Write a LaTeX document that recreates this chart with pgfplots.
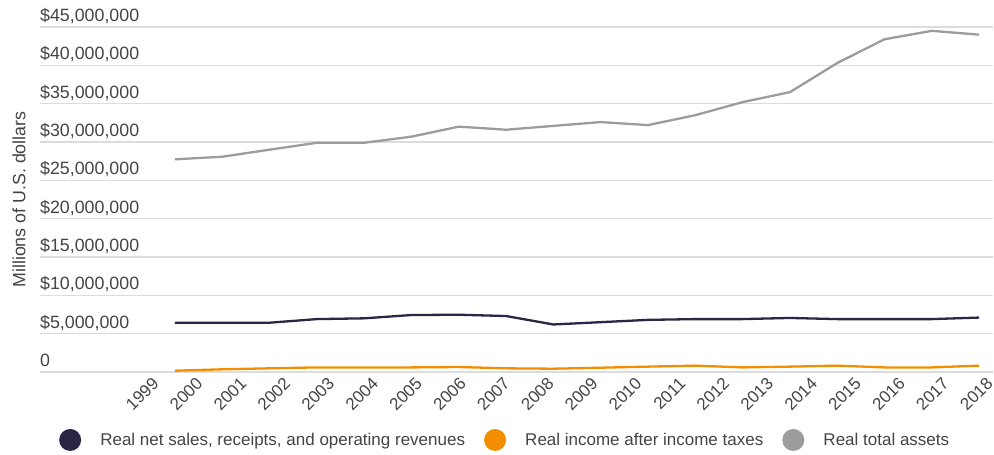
\documentclass[border=0pt]{standalone}
\usepackage{pgfplots}
\pgfplotsset{compat=1.18}
\usepackage{fontspec}
\setmainfont{Liberation Sans}
\definecolor{navy}{HTML}{2B2643}
\definecolor{orng}{HTML}{F28E00}
\definecolor{gry}{HTML}{9C9C9C}
\definecolor{gridc}{HTML}{DCDCDC}
\definecolor{txt}{HTML}{444444}
\begin{document}
\begin{tikzpicture}
\path[use as bounding box] (-40bp,-83bp) rectangle (954bp,372bp);
\begin{axis}[
  at={(0,0)}, anchor=south west,
  scale only axis, width=953bp, height=345bp,
  xmin=1998.146, xmax=2018.294,
  ymin=0, ymax=45000000,
  axis line style={draw=none},
  major tick length=0pt, tick style={draw=none},
  scaled y ticks=false, scaled x ticks=false,
  xmajorgrids=false, xminorgrids=false, yminorgrids=false,
  ymajorgrids=true, grid style={draw=gridc, line width=1.3bp},
  ytick={0,5000000,10000000,15000000,20000000,25000000,30000000,35000000,40000000,45000000},
  yticklabels={{0},{\$5,000,000},{\$10,000,000},{\$15,000,000},{\$20,000,000},{\$25,000,000},{\$30,000,000},{\$35,000,000},{\$40,000,000},{\$45,000,000}},
  yticklabel style={anchor=base west, inner sep=0pt, yshift=5.5bp, text=txt, font=\fontsize{17.8bp}{21bp}\selectfont},
  xtick={2000.410,2001.338,2002.266,2003.194,2004.122,2005.051,2005.979,2006.907,2007.835,2008.763,2009.691,2010.619,2011.547,2012.475,2013.403,2014.332,2015.260,2016.188,2017.116,2018.044},
  xticklabels={1999,2000,2001,2002,2003,2004,2005,2006,2007,2008,2009,2010,2011,2012,2013,2014,2015,2016,2017,2018},
  xticklabel style={rotate=45, anchor=north east, inner sep=0pt, yshift=-6bp, text=txt, font=\fontsize{17bp}{20bp}\selectfont},
  ylabel={Millions of U.S. dollars},
  ylabel style={at={(axis description cs:-0.022,0.5)}, anchor=center, text=txt, font=\fontsize{17.8bp}{21bp}\selectfont},
  legend columns=-1,
  legend style={at={(axis description cs:0.0199,-0.197)}, anchor=west, draw=none, fill=none, inner sep=0pt,
    nodes={inner sep=0pt, text=txt, font=\fontsize{17bp}{20bp}\selectfont},
    /tikz/every even column/.append style={column sep=19bp}},
  legend image code/.code={\fill[#1, draw=none] (11bp,0bp) circle (11bp); \path (40bp,0bp);},
  every axis plot/.append style={line width=2.3bp, line join=round},
]
\addplot[navy, mark=none] coordinates {
(2001,6.43e6) (2002,6.43e6) (2003,6.43e6) (2004,6.9e6) (2005,7.0e6) (2006,7.43e6) (2007,7.47e6) (2008,7.3e6) (2009,6.2e6) (2010,6.5e6) (2011,6.8e6) (2012,6.9e6) (2013,6.9e6) (2014,7.05e6) (2015,6.9e6) (2016,6.9e6) (2017,6.9e6) (2018,7.1e6)};
\addlegendentry{Real net sales, receipts, and operating revenues}
\addplot[orng, mark=none] coordinates {
(2001,0.17e6) (2002,0.35e6) (2003,0.48e6) (2004,0.6e6) (2005,0.6e6) (2006,0.6e6) (2007,0.65e6) (2008,0.48e6) (2009,0.43e6) (2010,0.56e6) (2011,0.7e6) (2012,0.83e6) (2013,0.6e6) (2014,0.7e6) (2015,0.83e6) (2016,0.6e6) (2017,0.6e6) (2018,0.83e6)};
\addlegendentry{Real income after income taxes}
\addplot[gry, mark=none] coordinates {
(2001,27.74e6) (2002,28.08e6) (2003,29.0e6) (2004,29.9e6) (2005,29.9e6) (2006,30.7e6) (2007,32.0e6) (2008,31.6e6) (2009,32.1e6) (2010,32.6e6) (2011,32.2e6) (2012,33.5e6) (2013,35.2e6) (2014,36.5e6) (2015,40.3e6) (2016,43.4e6) (2017,44.5e6) (2018,44.0e6)};
\addlegendentry{Real total assets}
\end{axis}
\end{tikzpicture}
\end{document}
